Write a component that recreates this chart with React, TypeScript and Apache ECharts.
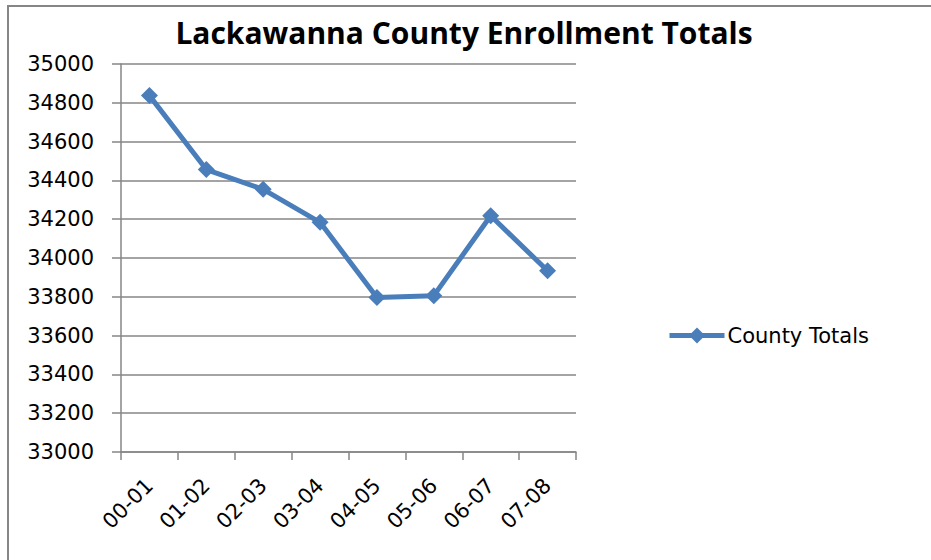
import React, { useEffect, useRef } from "react";
import * as echarts from "echarts";

const categories = ["00-01", "01-02", "02-03", "03-04", "04-05", "05-06", "06-07", "07-08"];
const countyTotals = [34837, 34456, 34354, 34184, 33796, 33806, 34218, 33934];
const yMin = 33000;
const yMax = 35000;
const yStep = 200;

export default function App() {
  const ref = useRef<HTMLDivElement>(null);
  useEffect(() => {
    if (!ref.current) return;
    const chart = echarts.init(ref.current, null, { renderer: "svg" });
    const gray = "#868686";
    chart.setOption({
      animation: false,
      backgroundColor: "#ffffff",
      title: {
        text: "Lackawanna County Enrollment Totals",
        left: 459,
        top: 12,
        textAlign: "center",
        textStyle: { fontFamily: "Open Sans", fontWeight: "bold", fontSize: 30, color: "#000" },
      },
      legend: {
        left: 662,
        top: 320,
        itemWidth: 55,
        itemHeight: 20,
        itemGap: 4,
        lineStyle: { width: 5 },
        textStyle: { fontFamily: "DejaVu Sans", fontSize: 21, color: "#000", padding: [0, 0, 0, -2] },
        data: ["County Totals"],
      },
      grid: { left: 121, right: 355, top: 64, bottom: 108, containLabel: false },
      xAxis: {
        type: "category",
        data: categories,
        boundaryGap: true,
        axisLine: { lineStyle: { color: gray, width: 1.5 } },
        axisTick: { show: true, length: 8, lineStyle: { color: gray, width: 1.5 } },
        axisLabel: {
          rotate: 45,
          margin: 30,
          fontFamily: "DejaVu Sans",
          fontSize: 21,
          color: "#000",
        },
        splitLine: { show: false },
      },
      yAxis: {
        type: "value",
        min: yMin,
        max: yMax,
        interval: yStep,
        axisLine: { show: true, lineStyle: { color: gray, width: 1.5 } },
        axisTick: { show: true, length: 9, lineStyle: { color: gray, width: 1.5 } },
        axisLabel: {
          margin: 27,
          fontFamily: "DejaVu Sans",
          fontSize: 21,
          color: "#000",
          formatter: (v: number) => String(v),
        },
        splitLine: { show: true, lineStyle: { color: gray, width: 1.5 } },
      },
      graphic: [
        {
          type: "rect",
          shape: { x: 8, y: 6, width: 940, height: 580 },
          style: { fill: "none", stroke: gray, lineWidth: 2 },
          silent: true,
        },
      ],
      series: [
        {
          name: "County Totals",
          type: "line",
          data: countyTotals,
          symbol: "diamond",
          symbolSize: 17,
          lineStyle: { color: "#4a7ebb", width: 5 },
          itemStyle: { color: "#4a7ebb" },
        },
      ],
    });
    return () => chart.dispose();
  }, []);
  return (
    <div
      ref={ref}
      style={{ position: "absolute", left: 0, top: 0, width: 931, height: 560 }}
    />
  );
}
